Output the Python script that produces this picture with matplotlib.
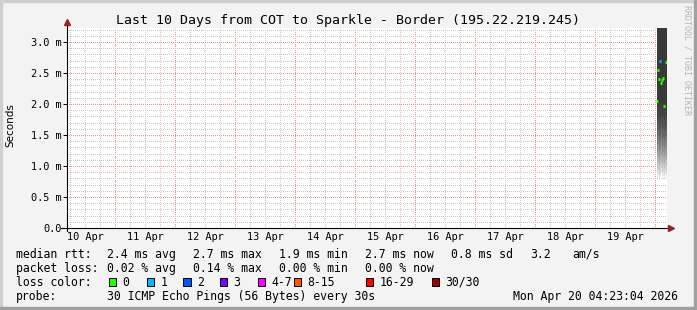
import matplotlib
matplotlib.use("Agg")
import matplotlib.pyplot as plt
import matplotlib.dates as mdates
from matplotlib.ticker import MultipleLocator, FuncFormatter
from matplotlib.patches import Rectangle
from datetime import datetime, timedelta

W, H = 697, 310
MONO = "DejaVu Sans Mono"

# --- data ---
title = "Last 10 Days from COT to Sparkle - Border (195.22.219.245)"
day_labels = ["10 Apr", "11 Apr", "12 Apr", "13 Apr", "14 Apr",
              "15 Apr", "16 Apr", "17 Apr", "18 Apr", "19 Apr"]

# hours after Apr 20 00:00, one entry per smoke column
smoke_hours = [0.8, 1.2, 1.6, 2.0, 2.4, 2.8, 3.2, 3.6, 4.0, 4.4]
smoke_bottom = [0.80, 0.86, 0.78, 0.83, 0.88, 0.80, 0.84, 0.79, 0.86, 0.82]   # ms
smoke_top = [3.40, 3.40, 3.40, 3.40, 3.40, 3.40, 3.40, 3.40, 3.40, 3.40]       # ms, above chart
median_ms = [2.04, 2.55, 2.41, 2.70, 2.34, 2.39, 2.42, 1.96, None, 2.68]
loss_count = [0, 0, 0, 1, 0, 0, 0, 0, 0, 0]

# smoke shading: bands above the lowest ping (ms) and their grey
band_offset = [0.0, 0.08, 0.17, 0.27, 0.38, 0.50, 0.63, 0.78, 0.95, 1.15]
band_grey = ["#e6e6e6", "#d2d2d2", "#bebebe", "#a8a8a8", "#929292",
             "#7c7c7c", "#666666", "#525252", "#424242", "#383838"]

loss_labels = ["0", "1", "2", "3", "4-7", "8-15", "16-29", "30/30"]
loss_colors = ["#26ff00", "#00b8ff", "#0059ff", "#7e00ff",
               "#ff00ff", "#ff5500", "#ff0000", "#a10000"]

rtt_row = [("median rtt:", 16), ("2.4 ms avg", 107), ("2.7 ms max", 193),
           ("1.9 ms min", 279), ("2.7 ms now", 365), ("0.8 ms sd", 451),
           ("3.2", 530), ("am/s", 572)]
loss_row = [("packet loss:", 16), ("0.02 % avg", 107), ("0.14 % max", 193),
            ("0.00 % min", 279), ("0.00 % now", 365)]
probe_row = [("probe:", 16), ("30 ICMP Echo Pings (56 Bytes) every 30s", 107),
             ("Mon Apr 20 04:23:04 2026", 513)]


def fx(x):
    return x / W


def fy(y):
    return 1 - y / H


fig = plt.figure(figsize=(W / 100, H / 100), dpi=100, facecolor="#f3f3f3")

# frame shading round the canvas
fig.patches.append(Rectangle((0, fy(2)), 1, 2 / H, transform=fig.transFigure, color="#cfcfcf"))
fig.patches.append(Rectangle((0, 0), 2 / W, 1, transform=fig.transFigure, color="#cfcfcf"))
fig.patches.append(Rectangle((fx(694), 0), 3 / W, 1, transform=fig.transFigure, color="#a0a0a0"))
fig.patches.append(Rectangle((0, 0), 1, 3 / H, transform=fig.transFigure, color="#a0a0a0"))

# plot area on whole pixels: x 67..667, y 28..228
ax = fig.add_axes([fx(67), fy(228), 600 / W, 200 / H])
ax.set_facecolor("white")

start = datetime(2026, 4, 10, 4, 48)
end = start + timedelta(days=10)
midnight = datetime(2026, 4, 20)
ax.set_xlim(start, end)
ax.set_ylim(0, 3.225)

# grid: 1px dots like rrdtool
dots = dict(linestyle=(0.5, (1, 1)), lw=0.72, snap=True, zorder=0.5)
t = datetime(2026, 4, 10, 6)
while t < end:
    ax.axvline(t, color="#f08c8c" if t.hour == 0 else "#c8c8c8", **dots)
    t += timedelta(hours=6)
for k in range(1, 33):
    ax.axhline(k / 10, color="#f08c8c" if k % 5 == 0 else "#c8c8c8", **dots)

# smoke, drawn as stepped bands over the column edges
half = timedelta(hours=0.2)
edges = [mdates.date2num(midnight + timedelta(hours=h) - half) for h in smoke_hours]
edges.append(mdates.date2num(midnight + timedelta(hours=smoke_hours[-1]) + half))
for off, grey in zip(band_offset, band_grey):
    lo = [b + off for b in smoke_bottom]
    ax.fill_between(edges, lo + lo[-1:], smoke_top + smoke_top[-1:], step="post",
                    color=grey, linewidth=0, antialiased=False, zorder=1)

# median points coloured by loss
for h, m, n in zip(smoke_hours, median_ms, loss_count):
    if m is None:
        continue
    tm = midnight + timedelta(hours=h)
    ax.hlines(m, mdates.date2num(tm - 2 * half), mdates.date2num(tm + 2 * half),
              colors=loss_colors[n], lw=2.2, zorder=3)

ax.xaxis.set_major_locator(mdates.DayLocator())
ax.yaxis.set_major_locator(MultipleLocator(0.5))
ax.yaxis.set_major_formatter(FuncFormatter(lambda v, p: "0.0" if v == 0 else f"{v:.1f} m"))
ax.set_xticklabels([])
ax.tick_params(axis="x", which="both", length=0)
ax.tick_params(axis="y", which="major", length=3, width=0.7, pad=1, labelsize=7.4)
for lbl in ax.get_yticklabels():
    lbl.set_family(MONO)
for s in ax.spines.values():
    s.set_visible(False)

# day labels at noon
for i, lab in enumerate(day_labels):
    tl = datetime(2026, 4, 10 + i, 12)
    ax.text(mdates.date2num(tl), -12.4 / 200, lab, transform=ax.get_xaxis_transform(),
            ha="center", va="baseline", fontsize=7.4, family=MONO)

# axes with arrows
ax.plot([0, 0], [-3 / 200, 1 + 4 / 200], transform=ax.transAxes, clip_on=False,
        color="black", lw=0.8, zorder=5)
ax.plot([-6 / 600, 1 + 2 / 600], [0, 0], transform=ax.transAxes, clip_on=False,
        color="black", lw=0.8, zorder=5)
ax.plot([0], [1 + 6 / 200], marker="^", ms=4, color="#9b2020", transform=ax.transAxes,
        clip_on=False, zorder=6)
ax.plot([1 + 4 / 600], [0], marker=">", ms=4, color="#9b2020", transform=ax.transAxes,
        clip_on=False, zorder=6)

# texts
fig.text(fx(347.5), fy(24), title, ha="center", va="baseline", fontsize=9.5, family=MONO)
fig.text(fx(10), fy(125), "Seconds", rotation=90, ha="center", va="center",
         fontsize=7.5, family="DejaVu Sans")
fig.text(fx(687), fy(60), "RRDTOOL / TOBI OETIKER", rotation=270, ha="center",
         va="center", fontsize=6, family=MONO, color="#b4b4b4")

FS = 8.3
for txt, x in rtt_row:
    fig.text(fx(x), fy(257.7), txt, ha="left", va="baseline", fontsize=FS, family=MONO)
for txt, x in loss_row:
    fig.text(fx(x), fy(271.7), txt, ha="left", va="baseline", fontsize=FS, family=MONO)
fig.text(fx(16), fy(285.7), "loss color:", ha="left", va="baseline", fontsize=FS, family=MONO)
box_x = [108, 146, 183, 219, 257, 293, 365, 431]
for lab, col, x in zip(loss_labels, loss_colors, box_x):
    fig.patches.append(Rectangle((fx(x + 0.5), fy(285.5)), 7.5 / W, 7.5 / H,
                                 transform=fig.transFigure,
                                 facecolor=col, edgecolor="black", lw=0.7))
    fig.text(fx(x + 14.5), fy(285.7), lab, ha="left", va="baseline", fontsize=FS, family=MONO)
for txt, x in probe_row:
    fig.text(fx(x), fy(300), txt, ha="left", va="baseline", fontsize=FS, family=MONO)

fig.savefig("out.png", dpi=100, facecolor=fig.get_facecolor())
